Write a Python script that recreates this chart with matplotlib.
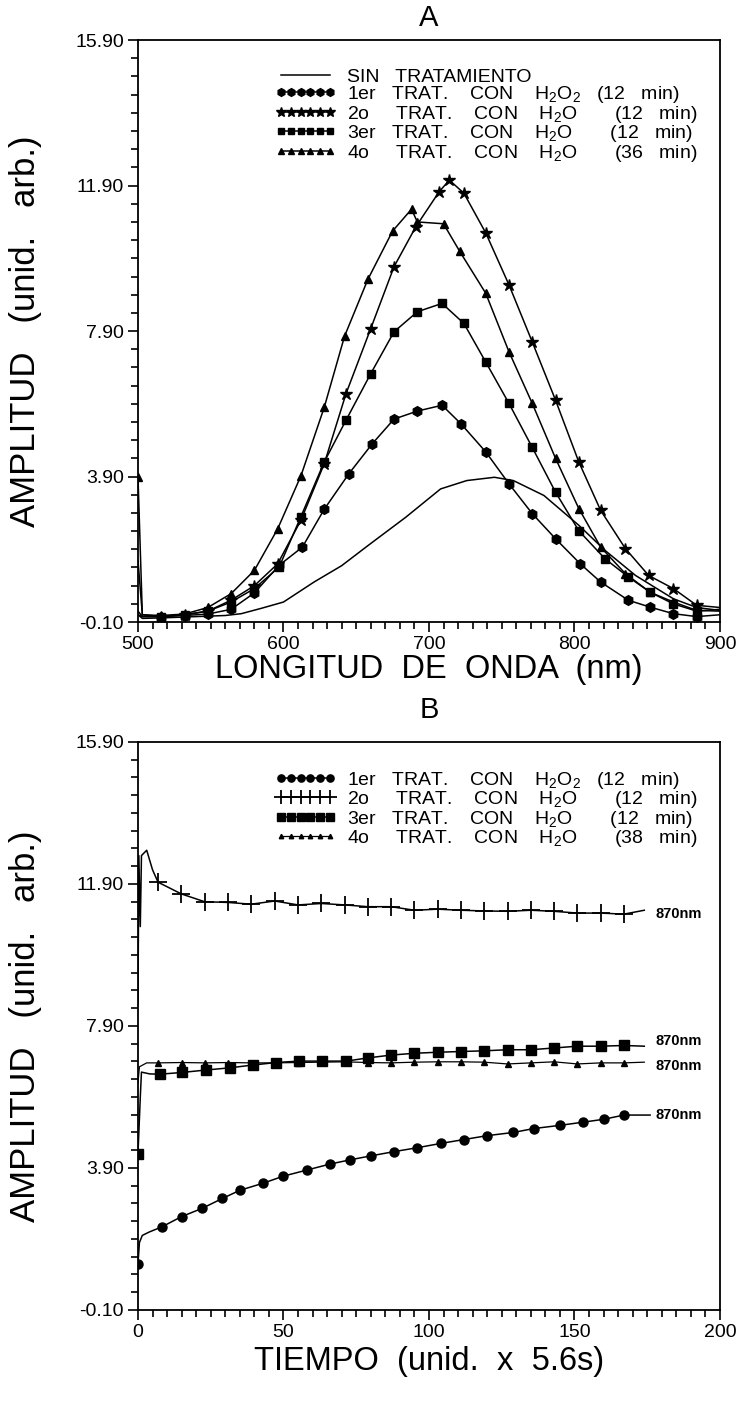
import matplotlib
matplotlib.use("Agg")
import matplotlib.pyplot as plt
import numpy as np
from matplotlib.ticker import FixedLocator, FormatStrFormatter

plt.rcParams['font.family'] = ['Liberation Sans', 'DejaVu Sans']
plt.rcParams['mathtext.default'] = 'regular'

# ---- A: espectros (amplitud vs longitud de onda) ----
wl_sin = [500, 503, 520, 540, 560, 571, 585, 600, 621, 640, 658, 684, 708, 726,
          745, 758, 779, 803, 821, 842, 868, 884, 900]
amp_sin = [0.1, 0.0, 0.02, 0.05, 0.08, 0.13, 0.28, 0.45, 1.0, 1.45, 2.0, 2.78, 3.56,
           3.79, 3.88, 3.79, 3.38, 2.56, 1.87, 1.18, 0.54, 0.3, 0.22]

wl_1 = [500, 503, 516, 532, 548, 564, 580, 597, 613, 628, 645, 661, 676, 692, 709,
        722, 739, 755, 771, 787, 804, 818, 837, 852, 868, 884, 900]
amp_1 = [0.1, 0.05, 0.05, 0.08, 0.12, 0.25, 0.7, 1.46, 1.96, 3.0, 3.98, 4.8, 5.48,
         5.7, 5.86, 5.35, 4.58, 3.7, 2.88, 2.19, 1.5, 1.0, 0.5, 0.31, 0.13, 0.05, 0.1]

wl_2 = [500, 503, 516, 532, 548, 564, 580, 596, 612, 628, 643, 660, 676, 691, 707,
        714, 724, 739, 755, 771, 787, 803, 818, 835, 851, 868, 884, 900]
amp_2 = [1.6, 0.1, 0.05, 0.1, 0.2, 0.5, 0.9, 1.5, 2.7, 4.25, 6.18, 7.97, 9.67, 10.77,
         11.73, 12.05, 11.69, 10.6, 9.17, 7.6, 6.0, 4.3, 2.97, 1.92, 1.18, 0.82, 0.36, 0.3]

wl_3 = [500, 503, 516, 532, 548, 564, 580, 597, 612, 628, 643, 660, 676, 692, 709,
        724, 739, 755, 771, 787, 803, 821, 837, 852, 868, 884, 900]
amp_3 = [0.2, 0.05, 0.05, 0.1, 0.2, 0.45, 0.82, 1.41, 2.8, 4.3, 5.45, 6.73, 7.88,
         8.43, 8.66, 8.11, 7.05, 5.91, 4.7, 3.47, 2.41, 1.64, 1.14, 0.72, 0.4, 0.2, 0.25]

wl_4 = [500, 503, 516, 532, 548, 564, 580, 596, 612, 628, 642, 658, 675, 688, 692,
        710, 721, 739, 755, 771, 787, 803, 818, 835, 852, 868, 884, 900]
amp_4 = [3.9, 0.1, 0.08, 0.12, 0.3, 0.68, 1.32, 2.46, 3.92, 5.8, 7.76, 9.32, 10.65,
         11.25, 10.9, 10.85, 10.1, 8.94, 7.33, 5.91, 4.4, 3.02, 1.96, 1.23, 0.72, 0.45,
         0.22, 0.2]

# ---- B: evolucion temporal a 870 nm ----
t_1 = [0, 0.5, 1.5, 4, 8.2, 15, 22, 29, 35, 43, 50, 58, 66, 73, 80, 88, 96, 104,
       112, 120, 129, 136, 145, 153, 160, 167, 176]
b_1 = [1.2, 1.8, 2.0, 2.1, 2.24, 2.53, 2.76, 3.04, 3.27, 3.47, 3.67, 3.84, 4.01, 4.13,
       4.24, 4.36, 4.47, 4.59, 4.7, 4.81, 4.9, 5.01, 5.1, 5.19, 5.27, 5.39, 5.39]

t_2 = [0, 0.3, 0.8, 1.2, 3, 5, 6.9, 14.9, 22.9, 30.9, 38.9, 47, 55, 63, 71, 79, 87,
       95, 103, 111, 119, 127, 135, 143, 151, 159, 167, 174]
b_2 = [8.5, 12.7, 10.7, 12.7, 12.85, 12.3, 11.95, 11.62, 11.4, 11.38, 11.33, 11.42,
       11.31, 11.35, 11.31, 11.26, 11.26, 11.16, 11.19, 11.16, 11.14, 11.13, 11.16,
       11.13, 11.08, 11.08, 11.05, 11.16]

t_3 = [0, 0.8, 1.2, 4, 7.4, 15.1, 23.5, 31.5, 39.5, 47.5, 55.2, 63.2, 71.6, 79, 87,
       95, 103, 111, 119, 127, 135, 143, 151, 159, 167, 174]
b_3 = [4.3, 5.9, 6.6, 6.55, 6.54, 6.59, 6.66, 6.72, 6.8, 6.87, 6.91, 6.91, 6.91, 7.0,
       7.08, 7.13, 7.16, 7.18, 7.2, 7.23, 7.23, 7.28, 7.33, 7.33, 7.35, 7.33]

t_4 = [0, 0.5, 3, 7, 15, 23, 31, 39, 47, 55, 63, 71, 79, 87, 95, 103, 111, 119, 127,
       135, 143, 151, 159, 167, 174]
b_4 = [6.3, 6.75, 6.86, 6.86, 6.87, 6.86, 6.87, 6.86, 6.86, 6.87, 6.88, 6.89, 6.87,
       6.86, 6.88, 6.89, 6.89, 6.88, 6.83, 6.86, 6.89, 6.83, 6.86, 6.86, 6.88]

yticks = [-0.10, 3.90, 7.90, 11.90, 15.90]

lbl_sin = 'SIN   TRATAMIENTO'
lbl_a = ['1er   TRAT.    CON    H$_2$O$_2$   (12   min)',
         '2o     TRAT.    CON    H$_2$O       (12   min)',
         '3er   TRAT.    CON    H$_2$O       (12   min)',
         '4o     TRAT.    CON    H$_2$O       (36   min)']
lbl_b = lbl_a[:3] + ['4o     TRAT.    CON    H$_2$O       (38   min)']

fig = plt.figure(figsize=(7.41, 14.16), dpi=100)
axA = fig.add_axes([0.1862, 0.5607, 0.7854, 0.4110])
axB = fig.add_axes([0.1862, 0.0749, 0.7854, 0.4011])


def style_axes(ax, xmaj, xmin):
    ax.set_ylim(-0.1, 15.9)
    ax.yaxis.set_major_locator(FixedLocator(yticks))
    ax.yaxis.set_minor_locator(FixedLocator(np.arange(-0.1, 15.95, 0.5)))
    ax.yaxis.set_major_formatter(FormatStrFormatter('%.2f'))
    ax.xaxis.set_major_locator(FixedLocator(xmaj))
    ax.xaxis.set_minor_locator(FixedLocator(xmin))
    ax.tick_params(which='both', direction='out', top=False, right=False,
                   labelsize=14, width=1.2, colors='black')
    ax.tick_params(which='major', length=7, pad=3)
    ax.tick_params(which='minor', length=5)
    for s in ax.spines.values():
        s.set_linewidth(1.3)
    ax.set_ylabel('AMPLITUD   (unid.   arb.)', fontsize=25)
    ax.yaxis.set_label_coords(-0.165, 0.5)


def add_legend(ax):
    ax.legend(loc='upper right', bbox_to_anchor=(0.985, 0.975), frameon=False,
              fontsize=14, handlelength=3.1, handletextpad=0.6, labelspacing=-0.08,
              borderaxespad=0.3, numpoints=6, markerscale=0.8)


kw = dict(color='black', lw=1.1)

# panel A
axA.plot(wl_sin, amp_sin, label=lbl_sin, **kw)
axA.plot(wl_1, amp_1, marker='h', ms=7, label=lbl_a[0], markevery=list(range(2, len(wl_1) - 1)), **kw)
axA.plot(wl_2, amp_2, marker='*', ms=9, label=lbl_a[1], markevery=list(range(2, len(wl_2) - 1)), **kw)
axA.plot(wl_3, amp_3, marker='s', ms=5.5, label=lbl_a[2], markevery=list(range(2, len(wl_3) - 1)), **kw)
axA.plot(wl_4, amp_4, marker='^', ms=6, label=lbl_a[3], markevery=[0] + list(range(2, len(wl_4) - 1)), **kw)
axA.set_xlim(500, 900)
style_axes(axA, np.arange(500, 901, 100), np.arange(500, 901, 10))
axA.set_xlabel('LONGITUD  DE  ONDA  (nm)', fontsize=23.5)
axA.xaxis.set_label_coords(0.5, -0.055)
axA.set_title('A', fontsize=21, pad=10)
add_legend(axA)

# panel B
axB.plot(t_1, b_1, marker='o', ms=6.5, label=lbl_b[0], markevery=[0] + list(range(4, len(t_1) - 1)), **kw)
axB.plot(t_2, b_2, marker='+', ms=13, mew=1.3, label=lbl_b[1], markevery=list(range(6, len(t_2) - 1)), **kw)
axB.plot(t_3, b_3, marker='s', ms=6.5, label=lbl_b[2], markevery=[0] + list(range(4, len(t_3) - 1)), **kw)
axB.plot(t_4, b_4, marker='^', ms=4, label=lbl_b[3], markevery=list(range(3, len(t_4) - 1)),
         color='black', lw=0.9)
axB.set_xlim(0, 200)
style_axes(axB, np.arange(0, 201, 50), np.arange(0, 201, 5))
axB.set_xlabel('TIEMPO  (unid.  x  5.6s)', fontsize=23.5)
axB.xaxis.set_label_coords(0.5, -0.064)
axB.set_title('B', fontsize=21, pad=17)
add_legend(axB)

for b, dy in [(b_2, -0.1), (b_3, 0.15), (b_4, -0.1), (b_1, 0.0)]:
    axB.text(178, b[-1] + dy, '870nm', fontsize=10.5, fontweight='bold', va='center')

fig.savefig('out.png', dpi=100)
